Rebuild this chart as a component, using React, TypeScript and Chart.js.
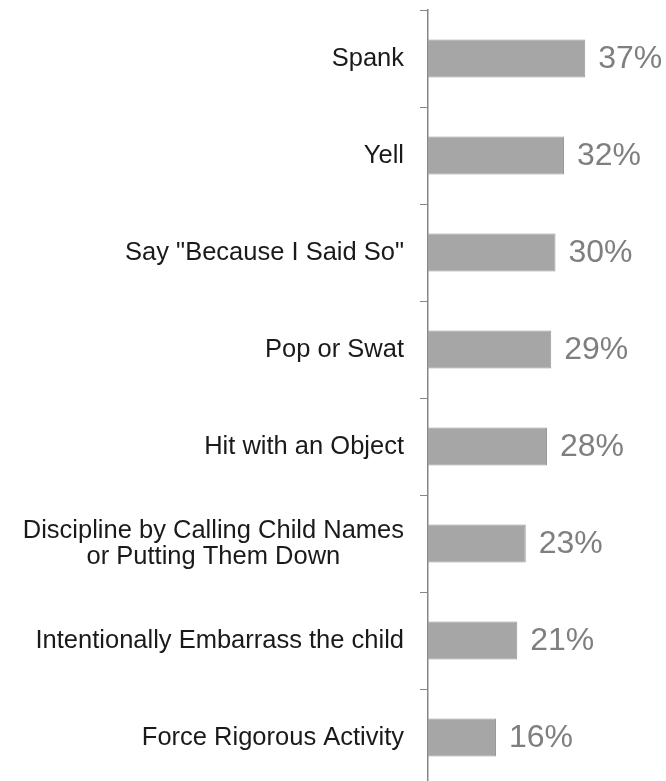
import React, { useEffect, useRef } from 'react';
import { Chart, registerables } from 'chart.js';
Chart.register(...registerables);

const categories: string[][] = [
  ['Spank'],
  ['Yell'],
  ['Say "Because I Said So"'],
  ['Pop or Swat'],
  ['Hit with an Object'],
  ['Discipline by Calling Child Names', 'or Putting Them Down'],
  ['Intentionally Embarrass the child'],
  ['Force Rigorous Activity'],
];
const values = [37, 32, 30, 29, 28, 23, 21, 16];
const valueLabels = ['37%', '32%', '30%', '29%', '28%', '23%', '21%', '16%'];

const CAT_FONT = '25.5px "Liberation Sans", Arial, sans-serif';
const VAL_FONT = '32px "Liberation Sans", Arial, sans-serif';

const labelPlugin = {
  id: 'customLabels',
  afterDraw(chart: any) {
    const ctx = chart.ctx;
    const yScale = chart.scales.y;
    ctx.save();
    ctx.font = CAT_FONT;
    ctx.fillStyle = '#1a1a1a';
    ctx.textAlign = 'center';
    ctx.textBaseline = 'middle';
    const right = yScale.right - 24;
    const lh = 26;
    categories.forEach((lines, i) => {
      const y = yScale.getPixelForValue(i);
      const maxW = Math.max(...lines.map((l) => ctx.measureText(l).width));
      const cx = right - maxW / 2;
      const y0 = y - ((lines.length - 1) * lh) / 2;
      lines.forEach((l, j) => ctx.fillText(l, cx, y0 + j * lh));
    });
    const meta = chart.getDatasetMeta(0);
    ctx.font = VAL_FONT;
    ctx.fillStyle = '#7f7f7f';
    ctx.textAlign = 'left';
    meta.data.forEach((bar: any, i: number) => {
      ctx.fillText(valueLabels[i], bar.x + 13, bar.y + 1);
    });
    ctx.restore();
  },
};

export default function App() {
  const ref = useRef<HTMLCanvasElement>(null);
  useEffect(() => {
    if (!ref.current) return;
    const chart = new Chart(ref.current, {
      type: 'bar',
      data: {
        labels: categories.map((c) => c.join(' ')),
        datasets: [
          {
            data: values,
            backgroundColor: '#a6a6a6',
            borderColor: '#999999',
            borderWidth: 1,
            barPercentage: 0.39,
            categoryPercentage: 1,
          },
        ],
      },
      options: {
        indexAxis: 'y',
        responsive: false,
        animation: false,
        layout: { padding: { top: 10, right: 0, bottom: 0, left: 0 } },
        plugins: { legend: { display: false }, tooltip: { enabled: false } },
        scales: {
          x: { display: false, min: 0, max: 56 },
          y: {
            afterFit: (s: any) => {
              s.width = 428;
            },
            ticks: { display: false },
            grid: {
              display: true,
              drawOnChartArea: false,
              drawTicks: true,
              tickLength: 8,
              color: '#868686',
              offset: true,
            },
            border: { display: true, color: '#868686', width: 1.5 },
          },
        },
      },
      plugins: [labelPlugin],
    });
    return () => chart.destroy();
  }, []);
  return (
    <div style={{ position: 'fixed', left: 0, top: 0, width: 666, height: 781, overflow: 'hidden', background: '#fff' }}>
      <canvas ref={ref} width={666} height={786} style={{ width: 666, height: 786 }} />
    </div>
  );
}
